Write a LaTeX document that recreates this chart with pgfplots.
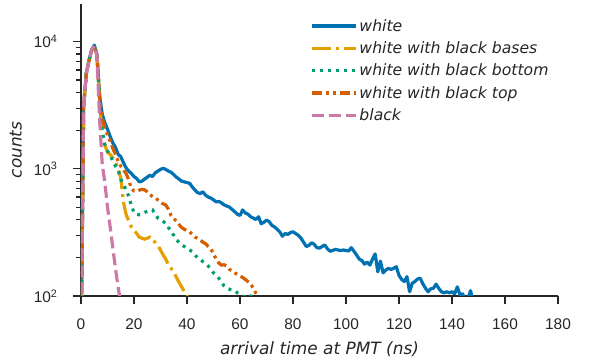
\documentclass[border=0pt]{standalone}
\usepackage{pgfplots}
\pgfplotsset{compat=1.18}
\usepackage{fontspec}
\setmainfont{DejaVu Sans}[ItalicFont={DejaVu Sans Oblique}]
\newfontfamily\tickfont{Liberation Sans}
\definecolor{txt}{HTML}{262626}
\definecolor{cB}{HTML}{0072B2}
\definecolor{cO}{HTML}{E69F00}
\definecolor{cG}{HTML}{009E73}
\definecolor{cV}{HTML}{D55E00}
\definecolor{cP}{HTML}{CC79A7}
\begin{document}
\begin{tikzpicture}
\begin{semilogyaxis}[
 scale only axis, width=477bp, height=292bp,
 xmin=0, xmax=180, ymin=100, ymax=19800,
 axis lines*=left, axis line style={txt, line width=1.25bp, -},
 tick align=outside, major tick length=8bp, minor tick length=4.5bp,
 every tick/.style={txt, line width=1.25bp},
 xtick={0,20,...,180},
 ytick={100,1000,10000},
 yticklabels={10\textsuperscript{2},10\textsuperscript{3},10\textsuperscript{4}},
 minor ytick={200,300,400,500,600,700,800,900,2000,3000,4000,5000,6000,7000,8000,9000},
 /pgf/number format/assume math mode=true,
 tick label style={font=\tickfont\fontsize{15.5}{18}\selectfont, text=txt},
 xticklabel style={yshift=-11bp},
 yticklabel style={xshift=-12bp},
 label style={font=\itshape\fontsize{17}{20}\selectfont, text=txt},
 xlabel={arrival time at PMT (ns)}, ylabel={counts},
 xlabel style={yshift=-5bp},
 ylabel style={yshift=5bp},
 legend style={at={(0.474,0.962)}, anchor=north west, draw=none, fill=none,
   font=\itshape\fontsize{15.7}{18}\selectfont, text=txt, row sep=5bp},
 legend cell align=left,
 legend image code/.code={\draw[#1] (0bp,0bp) -- (35bp,0bp); \path (0bp,0bp) -- (44bp,0bp);},
 no markers,
 every axis plot/.append style={line width=3.2bp},
]
\addplot[cB, solid, line join=round] table {
0 40
1 3100
2 5700
3 7100
4 8600
5 9400
6 8000
7 3800
8 2700
9 2300
10 2050
11 1800
12 1600
13 1480
14 1300
15 1250
16 1120
17 1020
18 960
19 920
20 870
21 840
22 790
23 800
24 830
25 860
26 890
27 870
28 930
29 960
30 990
31 1010
32 990
33 960
34 940
35 900
36 860
37 830
38 800
39 790
40 780
41 770
42 720
43 680
44 650
45 640
46 660
47 620
48 600
49 590
50 570
51 550
52 555
53 540
54 520
55 510
56 500
57 480
58 460
59 440
60 430
61 475
62 450
63 440
64 420
65 410
66 400
67 420
68 370
69 380
70 395
71 385
72 360
73 350
74 335
75 320
76 295
77 310
78 305
79 315
80 320
81 310
82 300
83 285
84 265
85 245
86 250
87 262
88 255
89 240
90 238
91 245
92 252
93 235
94 225
95 228
96 233
97 230
98 228
99 230
100 228
101 226
102 240
103 225
104 210
105 195
106 190
107 178
108 185
109 175
110 195
111 214
112 155
113 188
114 152
115 160
116 165
117 162
118 165
119 170
120 145
121 135
122 130
123 142
124 108
125 126
126 130
127 136
128 138
129 125
130 115
131 108
132 114
133 115
134 124
135 115
136 108
137 106
138 108
139 106
140 108
141 104
142 118
143 102
144 104
145 92
146 95
147 110
148 90
149 80
};
\addlegendentry{white}
\addplot[cO, dash pattern=on 19bp off 5bp on 3bp off 5bp] table {
0 30
1 3100
2 5600
3 7100
4 8500
5 9300
6 7900
7 3500
8 1800
9 1550
10 1350
11 1300
12 1220
13 1150
14 1000
15 850
16 550
17 440
18 390
19 350
20 330
21 310
22 290
23 285
24 280
25 285
26 290
27 270
28 265
29 250
30 230
31 210
32 195
33 175
34 165
35 155
36 140
37 128
38 118
39 108
40 100
41 92
42 85
43 80
};
\addlegendentry{white with black bases}
\addplot[cG, dash pattern=on 3bp off 5bp] table {
0 30
1 3100
2 5600
3 7100
4 8500
5 9300
6 7900
7 3600
8 2000
9 1550
10 1380
11 1280
12 1150
13 1050
14 980
15 830
16 760
17 680
18 610
19 520
20 450
21 440
22 435
23 440
24 455
25 462
26 470
27 475
28 440
29 410
30 395
31 385
32 374
33 345
34 320
35 300
36 276
37 265
38 252
39 245
40 236
41 230
42 223
43 210
44 200
45 196
46 186
47 178
48 172
49 162
50 152
51 146
52 138
53 128
54 120
55 115
56 113
57 112
58 110
59 106
60 104
61 100
62 98
63 102
64 100
65 92
66 85
};
\addlegendentry{white with black bottom}
\addplot[cV, dash pattern=on 10bp off 4bp on 3bp off 4bp on 3bp off 4bp] table {
0 30
1 3100
2 5600
3 7100
4 8500
5 9300
6 8000
7 3700
8 2500
9 2100
10 1850
11 1650
12 1450
13 1300
14 1150
15 1050
16 980
17 920
18 820
19 700
20 670
21 665
22 680
23 690
24 684
25 660
26 630
27 605
28 590
29 570
30 545
31 530
32 520
33 480
34 430
35 405
36 390
37 365
38 345
39 335
40 325
41 320
42 305
43 290
44 285
45 275
46 265
47 258
48 245
49 235
50 215
51 195
52 182
53 175
54 176
55 172
56 162
57 158
58 152
59 148
60 143
61 140
62 135
63 130
64 125
65 115
66 105
67 98
68 90
};
\addlegendentry{white with black top}
\addplot[cP, dash pattern=on 12bp off 5bp] table {
0 30
1 3100
2 5600
3 7100
4 8500
5 9300
6 7800
7 2500
8 1100
9 780
10 500
11 350
12 240
13 165
14 118
15 88
16 70
};
\addlegendentry{black}
\end{semilogyaxis}
\path[use as bounding box] ([xshift=-81bp,yshift=-64bp]current axis.south west) rectangle ([xshift=34bp,yshift=4bp]current axis.north east);
\end{tikzpicture}
\end{document}
